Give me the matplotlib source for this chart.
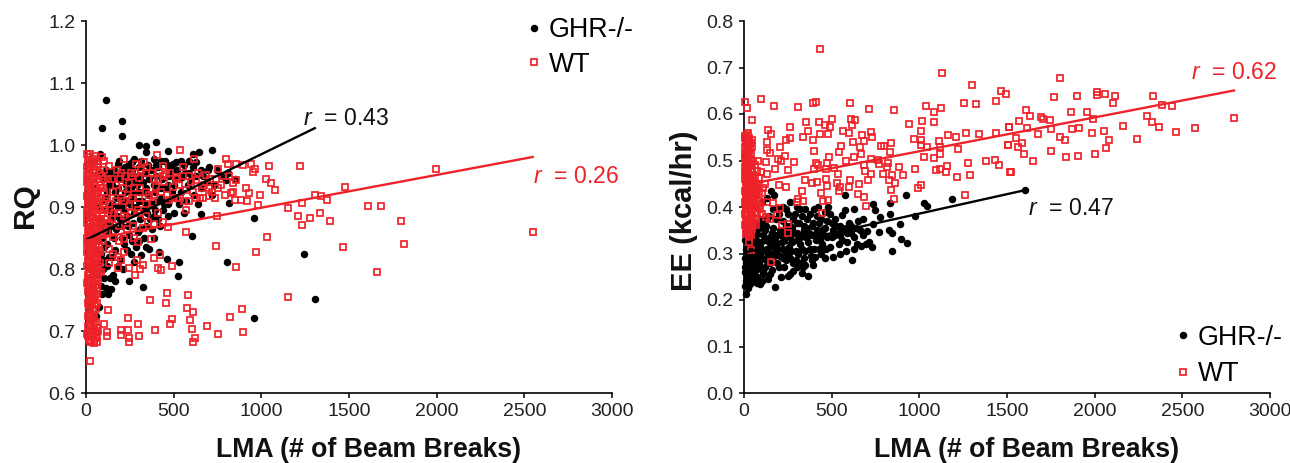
import matplotlib
matplotlib.use("Agg")
import matplotlib.pyplot as plt

plt.rcParams['font.family'] = ['Liberation Sans', 'DejaVu Sans']
plt.rcParams['mathtext.fontset'] = 'custom'
plt.rcParams['mathtext.it'] = 'Liberation Sans:italic'
plt.rcParams['mathtext.rm'] = 'Liberation Sans'

RED = '#ee2229'
BLACK = '#000000'

x_ticks = [0, 500, 1000, 1500, 2000, 2500, 3000]
rq_ticks = [0.6, 0.7, 0.8, 0.9, 1.0, 1.1, 1.2]
ee_ticks = [0.0, 0.1, 0.2, 0.3, 0.4, 0.5, 0.6, 0.7, 0.8]
x_label = 'LMA (# of Beam Breaks)'

rq_ghr = [
 (114,1.073),(91,1.028),(205,1.038),(205,1.015),(399,1.005),(304,1.0),(342,.999),(345,.989),(466,.991),(716,.992),
 (642,.988),(608,.985),(275,.978),(180,.970),(247,.970),(399,.968),(494,.970),(541,.974),(694,.959),(798,.943),
 (817,.907),(654,.888),(961,.883),(602,.854),(802,.812),(1243,.825),(1307,.751),(960,.721),(524,.789),(532,.811),
 (462,.816),(418,.828),(361,.833),(314,.823),(276,.812),(323,.771),(243,.780),(167,.780),(152,.790),(143,.767),
 (124,.759),(86,.773),(76,.739),(10,.735),(30,.745),(55,.725),(12,.760),(40,.770),(60,.790),(95,.800),
 (120,.805),(130,.820),(105,.835),(90,.850),(165,.830),(195,.815),(215,.840),(245,.855),(295,.860),(330,.850),
 (375,.865),(410,.880),(440,.895),(380,.905),(350,.890),(310,.880),(270,.875),(235,.885),(205,.870),(170,.865),
 (140,.880),(115,.895),(150,.905),(185,.900),(215,.895),(250,.905),(285,.900),(320,.910),(355,.920),(395,.925),
 (430,.915),(470,.905),(505,.915),(540,.925),(580,.935),(615,.920),(655,.930),(690,.940),(730,.935),(770,.950),
 (810,.955),(850,.945),(745,.960),(700,.965),(655,.960),(610,.965),(565,.955),(520,.960),(475,.950),(435,.945),
 (400,.950),(360,.945),(325,.940),(290,.935),(255,.930),(220,.925),(185,.930),(150,.935),(120,.925),(95,.910),
 (75,.880),(100,.945),(130,.955),(160,.960),(195,.950),(230,.955),(265,.960),(300,.965),(335,.955),(370,.960),
 (410,.965),(450,.975),(490,.960),(530,.945),(570,.910),(235,.910),(270,.915),(305,.925),(340,.905),(280,.945),
 (330,.925),(250,.940),(210,.945),(175,.915),(135,.900),(195,.880),(160,.850),(125,.860),(85,.870),(60,.900),
 (40,.930),(70,.955),(45,.975),(80,.985),(55,.830),(40,.850),(25,.800),(70,.810),(365,.880),(300,.845),
 (255,.825),(210,.800),(180,.805),(135,.785),(395,.895),(455,.930),(500,.935),(600,.945),(640,.905),(720,.920),
]

rq_ghr_band = [
 (190,.975),(225,.965),(260,.972),(315,.975),(355,.968),(385,.978),(425,.975),(470,.968),(515,.972),(560,.968),
 (590,.975),(630,.972),(665,.950),(625,.950),(585,.955),(545,.948),(510,.945),(465,.935),(425,.930),(385,.935),
 (345,.930),(310,.950),(275,.950),(240,.948),(205,.960),(170,.950),(140,.945),(115,.960),(130,.935),(165,.925),
 (200,.915),(230,.935),(265,.925),(300,.910),(330,.895),(365,.905),(405,.910),(445,.905),(490,.925),(530,.905),
 (560,.890),(500,.890),(465,.885),(420,.870),(385,.885),(345,.870),(310,.865),(275,.890),(240,.870),(210,.905),
 (175,.885),(145,.870),(110,.875),(150,.820),(205,.850),(260,.845),(235,.830),(285,.835),(340,.835),(390,.850),
 (120,.840),(105,.815),(115,.770),(90,.760),(100,.785),(85,.825),(70,.845),(110,.915),(145,.890),(180,.945),
]

rq_wt = [
 (2550,.860),(1996,.961),(1608,.902),(1683,.902),(1797,.877),(1814,.840),(1660,.795),
 (1220,.966),(1478,.933),(1307,.920),(1343,.918),(1374,.911),(1233,.906),(1150,.898),(1208,.886),(1332,.890),
 (1277,.883),(1393,.877),(1233,.871),(1463,.836),(1150,.755),(1043,.966),(965,.962),(950,.957),(1026,.945),
 (1056,.939),(1079,.927),(994,.920),(979,.903),(912,.931),(927,.922),(921,.909),(884,.912),(849,.912),(1032,.852),
 (969,.828),(857,.804),(743,.837),(745,.886),(570,.859),(889,.736),(819,.722),(895,.699),(750,.695),(692,.708),
 (581,.758),(460,.762),(367,.750),(456,.745),(578,.737),(608,.730),(593,.717),(490,.720),(479,.712),(602,.704),
 (623,.688),(608,.682),(391,.701),(304,.692),(295,.712),(239,.721),(239,.701),(198,.701),(198,.694),(245,.688),
 (245,.682),(124,.734),(105,.711),(118,.699),(118,.692),(23,.652),
 (538,.992),(405,.984),(614,.977),(798,.978),(219,.978),(133,.966),(333,.973),(285,.969),(437,.966),(551,.965),
 (750,.961),(808,.970),(855,.970),(893,.968),(940,.970),(684,.952),(741,.945),(836,.938),(855,.944),(627,.944),
 (513,.949),(456,.954),(418,.957),(304,.946),(247,.938),(209,.930),(152,.925),(399,.933),(494,.933),(570,.927),
 (627,.914),(703,.917),(750,.930),(826,.922),(361,.919),(475,.911),(560,.909),(570,.895),(247,.901),(295,.895),
 (380,.906),(351,.876),(389,.873),(437,.876),(465,.868),(323,.866),(370,.849),(295,.844),(219,.848),(152,.851),
 (133,.832),(219,.828),(180,.820),(133,.809),(180,.801),(247,.801),(323,.806),(281,.790),(389,.817),(422,.823),
 (408,.801),(427,.799),(490,.805),(133,.874),(95,.845),(80,.828),
 (175,.960),(200,.955),(260,.950),(340,.955),(385,.945),(445,.940),(530,.935),(600,.940),(660,.930),(705,.945),
 (780,.950),(790,.920),(720,.925),(670,.915),(610,.925),(520,.915),(340,.905),(300,.915),(265,.915),(200,.915),
 (170,.910),(130,.905),(105,.945),(100,.895),(120,.880),(160,.890),(230,.880),(270,.870),(410,.890),(190,.870),
]

rq_wt_column = [
 (5,.985),(25,.985),(50,.982),(90,.980),(10,.975),(35,.972),(70,.970),(100,.975),(5,.965),(20,.962),(50,.960),
 (80,.955),(8,.952),(30,.950),(60,.945),(5,.940),(25,.938),(45,.935),(85,.935),(10,.928),(35,.925),(70,.922),
 (100,.925),(5,.918),(20,.915),(50,.912),(85,.915),(10,.905),(35,.902),(65,.905),(110,.910),(5,.895),(25,.892),
 (50,.895),(90,.890),(130,.895),(8,.885),(30,.882),(65,.885),(110,.880),(5,.875),(20,.872),(45,.870),(75,.868),
 (10,.862),(35,.860),(60,.858),(5,.850),(25,.848),(50,.845),(8,.840),(30,.838),(55,.835),(5,.828),(20,.825),(40,.822),
 (65,.825),(10,.815),(30,.812),(55,.810),(70,.805),(5,.805),(20,.800),(40,.798),(60,.795),(10,.790),(30,.785),(50,.782),
 (5,.778),(20,.772),(40,.770),(10,.765),(30,.760),(50,.758),(15,.752),(35,.748),(50,.742),(15,.735),(30,.728),(45,.722),
 (55,.715),(30,.712),(10,.708),(45,.705),(25,.700),(55,.698),(5,.695),(20,.692),(40,.692),(55,.688),(15,.685),(30,.682),
 (45,.680),(65,.683),(70,.700),
 (15,.980),(40,.978),(60,.965),(15,.955),(42,.945),(18,.932),(58,.930),(12,.912),(42,.908),(75,.900),(18,.898),(40,.885),
 (85,.878),(15,.868),(55,.865),(15,.855),(40,.852),(70,.850),(15,.835),(42,.832),(15,.820),(45,.815),(60,.800),(15,.795),
 (45,.790),(25,.778),(55,.775),(20,.758),(40,.755),(25,.740),(40,.735),(20,.722),(35,.718),(60,.705),
 (100,.960),(125,.945),(95,.930),(120,.915),(110,.895),(75,.880),(100,.865),(90,.855),(80,.810),(85,.795),(70,.780),
]

rq_wt_column_fill = [
 (13,.970),(28,.968),(44,.966),(62,.975),(13,.945),(28,.944),(48,.948),(72,.940),(90,.950),(28,.928),(52,.925),(78,.930),
 (13,.922),(32,.912),(60,.918),(95,.905),(20,.905),(48,.902),(78,.895),(14,.890),(34,.890),(58,.878),(95,.872),(25,.878),
 (38,.875),(65,.870),(22,.865),(48,.858),(78,.858),(22,.852),(60,.848),(35,.845),(72,.838),(14,.845),(25,.832),(48,.828),
 (75,.830),(28,.820),(55,.820),(18,.810),(38,.808),(65,.815),(30,.802),(50,.798),(75,.795),(22,.790),(38,.782),(62,.785),
 (12,.782),(28,.768),(48,.765),(65,.770),(15,.770),(38,.762),(60,.760),(25,.750),(45,.750),(60,.745),(30,.742),(12,.745),
 (55,.735),(38,.725),(12,.725),(25,.715),(48,.712),(15,.700),(35,.700),(62,.692),(12,.692),(30,.690),(48,.686),(22,.684),
]

rq_wt_band = [
 (150,.945),(170,.935),(195,.945),(225,.950),(255,.955),(280,.955),(315,.960),(350,.965),(375,.955),(410,.945),
 (440,.950),(480,.955),(520,.945),(555,.950),(590,.950),(640,.955),(675,.935),(700,.930),(735,.915),(770,.935),
 (815,.950),(840,.925),(215,.910),(240,.920),(275,.930),(310,.930),(345,.925),(385,.920),(425,.925),(460,.920),
 (495,.915),(535,.915),(590,.910),(650,.915),(215,.885),(255,.890),(300,.890),(340,.885),(180,.890),(150,.880),
 (235,.865),(275,.850),(190,.845),(120,.860),(155,.825),(200,.815),(290,.815),(310,.800),
]

ee_ghr = [
 (179,.229),(10,.213),(367,.252),(329,.259),(249,.252),(614,.285),(842,.306),(931,.323),(893,.331),(728,.313),
 (714,.324),(667,.316),(644,.320),(842,.345),(828,.350),(770,.347),(699,.348),(889,.363),(975,.381),(1041,.403),
 (1028,.408),(923,.426),(1189,.418),(576,.426),(576,.393),(557,.383),(733,.406),(747,.393),(832,.408),(832,.386),
 (775,.379),(737,.363),(152,.434),(420,.401),(509,.293),(462,.290),(395,.275),(405,.293),(72,.236),(15,.247),
 (148,.255),(110,.262),(200,.270),(280,.262),(320,.280),(240,.285),(170,.295),(100,.290),(60,.275),(30,.265),
 (8,.260),(40,.280),(15,.290),(5,.270),(25,.300),(60,.305),(90,.315),(130,.310),(185,.320),(225,.310),(270,.305),
 (310,.300),(350,.305),(400,.310),(445,.320),(490,.315),(540,.320),(590,.325),(630,.335),(680,.340),(640,.355),
 (590,.345),(545,.340),(500,.335),(455,.340),(410,.330),(365,.325),(320,.320),(275,.325),(230,.330),(190,.340),
 (150,.335),(110,.340),(70,.330),(35,.320),(10,.310),(45,.345),(85,.355),(125,.360),(165,.355),(205,.350),(245,.345),
 (285,.345),(325,.340),(370,.345),(415,.350),(460,.355),(505,.350),(550,.360),(600,.365),(650,.370),(520,.375),
 (475,.370),(430,.365),(385,.360),(340,.360),(300,.365),(260,.360),(220,.370),(180,.375),(140,.380),(100,.375),
 (60,.365),(25,.355),(250,.385),(290,.385),(330,.380),(375,.385),(415,.380),(460,.390),(350,.395),(300,.400),
 (260,.410),(220,.400),(190,.395),(480,.400),(630,.395),(555,.350),(610,.345),(680,.375),(125,.330),(155,.300),
 (205,.295),(250,.300),(295,.285),(345,.290),(125,.285),(85,.270),(50,.255),(210,.250),(280,.280),(335,.270),
 (25,.240),(45,.300),(8,.230),(20,.225),(75,.250),(100,.240),(5,.330),(30,.335),(60,.400),(100,.410),(170,.425),
 (130,.420),(5,.290),(15,.275),(105,.305),(165,.315),(440,.300),(380,.295),(300,.330),(345,.350),(430,.345),
]

ee_ghr_dense = [
 (10,.240),(35,.235),(55,.245),(12,.255),(40,.250),(70,.265),(20,.268),(48,.270),(85,.280),(10,.280),(30,.285),(60,.290),
 (80,.300),(15,.305),(40,.312),(65,.318),(95,.325),(15,.325),(45,.330),(75,.342),(20,.340),(55,.355),(30,.362),(95,.365),
 (120,.350),(140,.325),(160,.345),(175,.330),(195,.310),(215,.325),(235,.305),(255,.315),(265,.290),(225,.290),(190,.280),
 (150,.280),(120,.270),(160,.265),(135,.300),(180,.305),(210,.340),(240,.360),(265,.335),(295,.305),(305,.345),(330,.310),
 (355,.335),(375,.310),(395,.340),(425,.310),(445,.350),(475,.335),(470,.310),(520,.340),(560,.330),(580,.355),(525,.360),
 (490,.385),(440,.375),(400,.395),(360,.375),(320,.395),(280,.375),(240,.395),(200,.385),(165,.395),(275,.355),(315,.365),
 (355,.355),(395,.365),(435,.330),(500,.365),(610,.360),(660,.350),(625,.310),(545,.300),(580,.305),(695,.320),
 (130,.375),(75,.300),(25,.275),(110,.255),(90,.235),(135,.245),(230,.270),(265,.255),(300,.270),(350,.275),(385,.285),
]

ee_wt = [
 (431,.739),(1130,.689),(1300,.662),(1463,.650),(1493,.642),(1438,.628),(1322,.621),(1254,.623),(1125,.613),(1083,.605),
 (1037,.618),(857,.609),(712,.610),(604,.623),(410,.625),(393,.624),(308,.615),(173,.617),(99,.632),(4,.625),(19,.613),
 (44,.587),(355,.583),(428,.583),(502,.590),(460,.576),(490,.572),(608,.590),(635,.588),(618,.576),(939,.578),(1015,.585),
 (1083,.583),(1007,.563),(139,.565),(152,.557),(264,.571),(264,.549),(238,.544),(365,.564),(336,.550),(391,.545),(431,.557),
 (477,.557),(566,.564),(600,.560),(671,.555),(722,.562),(728,.551),(684,.542),(619,.540),(555,.532),(661,.528),(665,.514),
 (540,.519),(397,.521),(205,.529),(133,.539),(133,.522),(148,.517),(234,.510),(192,.504),(209,.499),(125,.497),(82,.498),
 (285,.497),(253,.479),(179,.482),(129,.470),(198,.448),(238,.444),(346,.458),(388,.451),(414,.454),(410,.494),(424,.490),
 (397,.482),(485,.508),(471,.494),(513,.484),(467,.481),(538,.471),(466,.461),(473,.446),(532,.451),(547,.444),(540,.435),
 (606,.459),(597,.442),(654,.449),(650,.428),(684,.421),(695,.403),(477,.415),(448,.413),(437,.431),(329,.434),(338,.413),
 (310,.417),(300,.410),(581,.499),(625,.507),(686,.490),(690,.478),(726,.471),(709,.458),(722,.503),(762,.501),(770,.492),
 (821,.494),(817,.487),(790,.472),(844,.468),(828,.458),(864,.451),(836,.436),(855,.418),(908,.469),(884,.487),(977,.481),
 (1007,.447),(994,.440),(781,.531),(800,.531),(840,.537),(832,.519),(969,.546),(1011,.544),(1011,.533),(1045,.530),(1113,.543),
 (1117,.528),(1117,.514),(1028,.507),(1083,.506),(1161,.555),(1208,.551),(1265,.559),(1343,.558),(1435,.560),(1509,.572),
 (1503,.533),(1220,.524),(1277,.494),(1378,.500),(1431,.501),(1455,.490),(1516,.476),(1288,.469),(1212,.464),(1155,.489),
 (1151,.476),(1093,.479),(1117,.481),(1258,.425),
 (447,.387),(249,.363),(249,.345),(215,.361),(148,.374),(152,.282),(29,.325),(38,.307),(205,.397),(186,.383),(125,.379),
 (167,.408),(129,.411),
 (1803,.677),(1768,.637),(1899,.639),(2014,.647),(2014,.641),(2059,.643),(2116,.639),(2105,.624),(2333,.639),(2385,.619),
 (2442,.617),(2299,.596),(2327,.583),(2367,.572),(2464,.561),(2573,.570),(2795,.591),(2242,.546),(2162,.574),(2054,.563),
 (2082,.544),(2065,.527),(2002,.514),(1905,.510),(1837,.508),(1751,.520),(1649,.499),(1523,.475),(1597,.514),(1563,.529),
 (1586,.538),(1506,.533),(1552,.548),(1677,.557),(1614,.570),(1512,.572),(1569,.585),(1631,.596),(1609,.609),(1694,.594),
 (1706,.589),(1746,.587),(1751,.568),(1803,.551),(1831,.544),(1871,.568),(1911,.570),(1985,.559),(1865,.604),(1957,.604),
 (1991,.589),
]

ee_wt_column = [
 (20,.560),(5,.552),(30,.548),(45,.545),(10,.540),(25,.535),(5,.528),(35,.525),(15,.518),(40,.515),(5,.508),(25,.505),
 (50,.500),(10,.495),(35,.492),(60,.490),(5,.485),(25,.480),(45,.478),(12,.472),(35,.468),(60,.465),(85,.462),(5,.460),
 (25,.455),(50,.452),(75,.450),(10,.445),(35,.442),(60,.440),(5,.435),(25,.432),(45,.428),(70,.425),(100,.430),(12,.420),
 (35,.418),(55,.415),(85,.412),(5,.410),(25,.405),(50,.402),(75,.400),(10,.395),(35,.392),(60,.390),(90,.395),(5,.385),
 (25,.382),(45,.378),(70,.375),(10,.372),(35,.368),(55,.365),(5,.362),(25,.358),(45,.352),(20,.345),(40,.340),(30,.335),
 (10,.400),(100,.385),(110,.440),(95,.475),(120,.450),
 (15,.555),(28,.542),(18,.530),(8,.515),(30,.512),(18,.498),(40,.500),(15,.488),(38,.482),(18,.465),(45,.462),(15,.450),
 (38,.450),(18,.438),(40,.435),(20,.425),(58,.425),(20,.412),(42,.410),(65,.408),(15,.385),(38,.380),(15,.375),
]

ee_wt_column_fill = [
 (8,.548),(38,.538),(15,.530),(45,.530),(22,.522),(10,.500),(30,.498),(48,.488),(28,.490),(8,.475),(25,.470),(50,.468),
 (72,.478),(12,.458),(35,.458),(62,.452),(22,.445),(48,.442),(72,.438),(12,.430),(35,.428),(58,.430),(85,.435),(25,.420),
 (45,.420),(72,.412),(12,.405),(35,.405),(60,.400),(85,.402),(22,.395),(48,.392),(72,.388),(12,.382),(35,.375),(58,.375),
 (22,.368),(45,.365),(68,.362),(12,.355),(35,.350),(12,.342),(30,.345),(48,.360),
]

rq_ghr_line_x, rq_ghr_line_y = [0, 1311], [0.847, 1.028]
rq_wt_line_x, rq_wt_line_y = [0, 2554], [0.846, 0.981]
ee_ghr_line_x, ee_ghr_line_y = [0, 1600], [0.302, 0.436]
ee_wt_line_x, ee_wt_line_y = [0, 2801], [0.447, 0.651]

PTS = {'marker': 'o', 'ms': 5.4, 'mfc': BLACK, 'mec': BLACK, 'mew': 0, 'ls': 'none', 'clip_on': False}
SQ = {'marker': 's', 'ms': 4.9, 'mfc': 'none', 'mec': RED, 'mew': 1.25, 'ls': 'none', 'clip_on': False}


def panel(rect, ghr, wt, l_ghr, l_wt, yticks, ylim, ylabel, ylabel_x, ylabel_y, ylabel_size):
    ax = fig.add_axes(rect)
    ax.plot(*zip(*ghr), label='GHR-/-', zorder=3, **PTS)
    ax.plot(*zip(*wt), label='WT', zorder=4, **SQ)
    ax.plot(*l_ghr, color=BLACK, lw=1.7, zorder=5, solid_capstyle='butt')
    ax.plot(*l_wt, color=RED, lw=1.7, zorder=5, solid_capstyle='butt')
    ax.set_xlim(0, 3000)
    ax.set_ylim(*ylim)
    ax.set_xticks(x_ticks)
    ax.set_yticks(yticks)
    ax.set_yticklabels(['%.1f' % v for v in yticks])
    ax.spines[['top', 'right']].set_visible(False)
    ax.spines[['left', 'bottom']].set_linewidth(1.2)
    ax.tick_params(length=3.5, width=1.1, labelsize=14, pad=4, labelcolor='#222222')
    ax.set_xlabel(x_label, fontsize=19.2, fontweight='bold', labelpad=12, color='#111111')
    ax.xaxis.label.set_x(0.538)
    ax.set_ylabel(ylabel, fontsize=ylabel_size, fontweight='bold', color='#111111')
    ax.yaxis.set_label_coords(ylabel_x, ylabel_y)
    return ax


fig = plt.figure(figsize=(12.9, 4.63), dpi=100)
H = 463
W = 1290
left = panel([86/W, 1-393/H, 526/W, 372/H], rq_ghr + rq_ghr_band,
             rq_wt + rq_wt_band + rq_wt_column + rq_wt_column_fill,
             (rq_ghr_line_x, rq_ghr_line_y), (rq_wt_line_x, rq_wt_line_y),
             rq_ticks, (0.6, 1.2), 'RQ', -0.089, 0.503, 21.5)
right = panel([744/W, 1-393/H, 526/W, 372/H], ee_ghr + ee_ghr_dense,
              ee_wt + ee_wt_column + ee_wt_column_fill,
              (ee_ghr_line_x, ee_ghr_line_y), (ee_wt_line_x, ee_wt_line_y),
              ee_ticks, (0.0, 0.8), 'EE (kcal/hr)', -0.087, 0.489, 21)
# black dot at the end of the GHR-/- fit in the EE panel
right.plot(ee_ghr_line_x[-1:], ee_ghr_line_y[-1:], zorder=5, **PTS)

LEG = dict(frameon=False, fontsize=19.3, handletextpad=0.0, borderpad=0, borderaxespad=0,
           handlelength=1.1, loc='upper left')
left.legend(bbox_to_anchor=(0.824, 1.01), labelspacing=0.31, **LEG)
right.legend(bbox_to_anchor=(0.807, 0.1835), labelspacing=0.38, **LEG)

R_SIZE = 16.6
left.text(1235, 1.024, r'$\mathit{r}$  = 0.43', fontsize=R_SIZE, color='#111111', va='bottom')
left.text(2550, 0.930, r'$\mathit{r}$  = 0.26', fontsize=R_SIZE, color=RED, va='bottom')
right.text(1620, 0.372, r'$\mathit{r}$  = 0.47', fontsize=R_SIZE, color='#111111', va='bottom')
right.text(2550, 0.664, r'$\mathit{r}$  = 0.62', fontsize=R_SIZE, color=RED, va='bottom')

fig.savefig('out.png', dpi=100)
